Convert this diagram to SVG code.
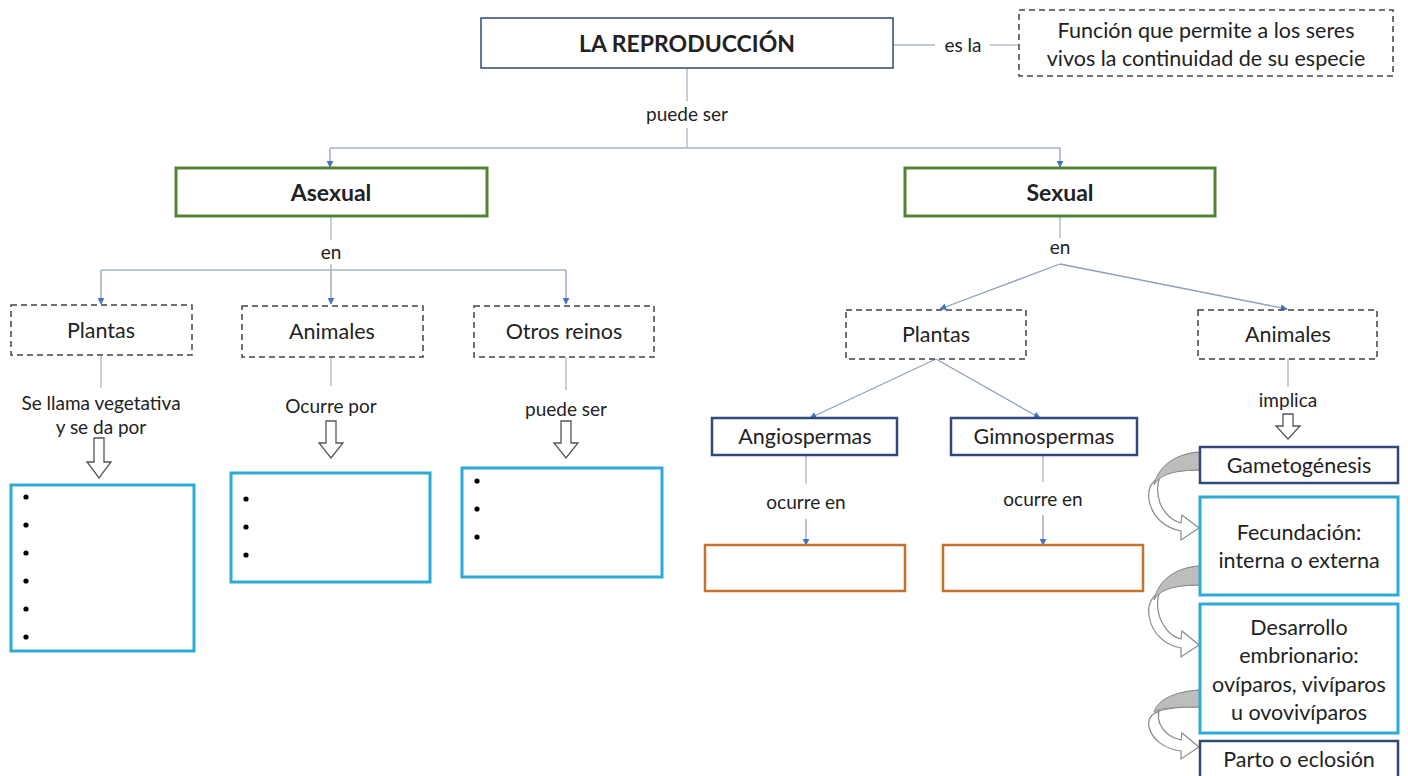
<svg xmlns="http://www.w3.org/2000/svg" width="1408" height="776" viewBox="0 0 1408 776">
<defs>
<marker id="ah" viewBox="0 0 10 10" refX="9" refY="5" markerWidth="7" markerHeight="7" orient="auto" markerUnits="userSpaceOnUse">
<path d="M0,0 L10,5 L0,10 Z" fill="#4472c4"/>
</marker>
<style>
text{font-family:Lato,"Open Sans","Liberation Sans",sans-serif;fill:#222;text-anchor:middle}
.t{font-size:21.5px}
.b{font-size:23px;font-weight:bold}
.lbl{font-size:19px}
.ln{fill:none;stroke:#a9b4c6;stroke-width:1.3}
.arr{fill:none;stroke:#8fa0bb;stroke-width:1.3;marker-end:url(#ah)}
.dash{fill:#fff;stroke:#444;stroke-width:1.5;stroke-dasharray:6,4}
.green{fill:#fff;stroke:#548235;stroke-width:3}
.navy{fill:#fff;stroke:#2f4a78;stroke-width:2.5}
.cyan{fill:#fff;stroke:#2eaad6;stroke-width:3}
.orange{fill:#fff;stroke:#c5722f;stroke-width:2.5}
.block{fill:#fff;stroke:#555;stroke-width:1.3}
.cur{fill:#fff;stroke:#8a8a8a;stroke-width:1.2}
.curf{fill:#bdbdbd;stroke:#8a8a8a;stroke-width:1}
.dot{fill:#000}
</style>
</defs>
<rect width="1408" height="776" fill="#fff"/>

<g id="connectors">
<path class="ln" d="M893,45 H935"/>
<path class="ln" d="M990,45 H1019"/>
<path class="ln" d="M687,68 V101"/>
<path class="ln" d="M687,128 V148"/>
<path class="ln" d="M330,148 H1060"/>
<path class="arr" d="M330,148 V167"/>
<path class="arr" d="M1060,148 V167"/>
<path class="ln" d="M331,216 V240"/>
<path class="ln" d="M331,264 V270"/>
<path class="ln" d="M101,270 H566"/>
<path class="arr" d="M101,270 V304"/>
<path class="arr" d="M331,270 V304"/>
<path class="arr" d="M566,270 V304"/>
<path class="ln" d="M101,356 V388"/>
<path class="ln" d="M331,357 V386"/>
<path class="ln" d="M566,357 V390"/>
<path class="ln" d="M1060,216 V238"/>
<path class="arr" d="M1060,264 L940,309"/>
<path class="arr" d="M1060,264 L1287,309"/>
<path class="arr" d="M936,359 L810,418"/>
<path class="arr" d="M936,359 L1040,418"/>
<path class="ln" d="M806,455 V484"/>
<path class="arr" d="M806,519 V545"/>
<path class="ln" d="M1043,455 V482"/>
<path class="arr" d="M1043,515 V545"/>
<path class="ln" d="M1288,359 V387"/>
</g>

<g id="block-arrows">
<path class="block" d="M94,438 H104 V462 H111 L99,478 L87,462 H94 Z"/>
<path class="block" d="M326,421 H336 V443 H343 L331,458 L319,443 H326 Z"/>
<path class="block" d="M561,421 H571 V443 H578 L566,458 L554,443 H561 Z"/>
<path class="block" d="M1283,414 H1293 V426 H1300 L1288,439 L1276,426 H1283 Z"/>
</g>

<g id="curved-arrows">
<path class="cur" d="M1200,452 C1165,454 1152,480 1160,503 C1165,515 1173,521 1181,523 L1182,515 L1199,528 L1181,540 L1181,531 C1165,528 1152,517 1149,500 C1146,480 1160,470 1200,470 Z"/>
<path class="curf" d="M1200,452 C1172,454 1158,468 1154,485 C1160,474 1176,470 1200,470 Z"/>
<path class="cur" d="M1200,566 C1165,568 1152,594 1160,618 C1165,630 1173,637 1181,639 L1182,631 L1199,645 L1181,657 L1181,648 C1165,645 1152,634 1149,616 C1146,596 1160,585 1200,585 Z"/>
<path class="curf" d="M1200,566 C1172,568 1158,582 1154,600 C1160,589 1176,585 1200,585 Z"/>
<path class="cur" d="M1200,690 C1165,692 1154,708 1160,724 C1164,733 1172,738 1181,740 L1182,733 L1199,747 L1181,759 L1181,751 C1165,749 1152,740 1149,727 C1146,712 1160,707 1200,707 Z"/>
<path class="curf" d="M1200,690 C1172,692 1158,700 1154,712 C1160,708 1176,707 1200,707 Z"/>
</g>

<g id="n-reproduccion"><rect x="481" y="18" width="412" height="50" fill="#fff" stroke="#2f4a78" stroke-width="1.5"/><text class="b" x="687" y="52">LA REPRODUCCIÓN</text></g>
<g id="l-esla"><text class="lbl" x="963" y="52">es la</text></g>
<g id="n-funcion"><rect class="dash" x="1019" y="10" width="374" height="66"/><text class="t" x="1206" y="38">Función que permite a los seres</text><text class="t" x="1206" y="66">vivos la continuidad de su especie</text></g>
<g id="l-puedeser"><text class="lbl" x="687" y="121">puede ser</text></g>

<g id="n-asexual"><rect class="green" x="176" y="168" width="311" height="48"/><text class="b" x="331" y="201">Asexual</text></g>
<g id="n-sexual"><rect class="green" x="905" y="168" width="310" height="48"/><text class="b" x="1060" y="201">Sexual</text></g>
<g id="l-en1"><text class="lbl" x="331" y="259">en</text></g>
<g id="l-en2"><text class="lbl" x="1060" y="254">en</text></g>

<g id="n-plantas-a"><rect class="dash" x="11" y="305" width="181" height="50"/><text class="t" x="101" y="338">Plantas</text></g>
<g id="n-animales-a"><rect class="dash" x="242" y="306" width="181" height="51"/><text class="t" x="332" y="339">Animales</text></g>
<g id="n-otros"><rect class="dash" x="474" y="306" width="180" height="51"/><text class="t" x="564" y="339">Otros reinos</text></g>

<g id="l-vegetativa"><text class="lbl" x="101" y="410">Se llama vegetativa</text><text class="lbl" x="101" y="434">y se da por</text></g>
<g id="l-ocurrepor"><text class="lbl" x="331" y="413">Ocurre por</text></g>
<g id="l-puedeser2"><text class="lbl" x="566" y="416">puede ser</text></g>

<g id="n-lista-plantas"><rect class="cyan" x="11" y="485" width="183" height="166"/>
<circle class="dot" cx="26" cy="497" r="2.6"/><circle class="dot" cx="26" cy="525" r="2.6"/><circle class="dot" cx="26" cy="553" r="2.6"/><circle class="dot" cx="26" cy="581" r="2.6"/><circle class="dot" cx="26" cy="609" r="2.6"/><circle class="dot" cx="26" cy="637" r="2.6"/></g>
<g id="n-lista-animales"><rect class="cyan" x="231" y="473" width="199" height="109"/>
<circle class="dot" cx="246" cy="499" r="2.6"/><circle class="dot" cx="246" cy="527" r="2.6"/><circle class="dot" cx="246" cy="555" r="2.6"/></g>
<g id="n-lista-otros"><rect class="cyan" x="462" y="468" width="200" height="109"/>
<circle class="dot" cx="477" cy="481" r="2.6"/><circle class="dot" cx="477" cy="509" r="2.6"/><circle class="dot" cx="477" cy="537" r="2.6"/></g>

<g id="n-plantas-s"><rect class="dash" x="846" y="310" width="180" height="49"/><text class="t" x="936" y="342">Plantas</text></g>
<g id="n-animales-s"><rect class="dash" x="1198" y="310" width="179" height="49"/><text class="t" x="1288" y="342">Animales</text></g>

<g id="n-angio"><rect class="navy" x="712" y="418" width="185" height="37"/><text class="t" x="805" y="444">Angiospermas</text></g>
<g id="n-gimno"><rect class="navy" x="951" y="418" width="186" height="37"/><text class="t" x="1044" y="444">Gimnospermas</text></g>
<g id="l-ocurre1"><text class="lbl" x="806" y="509">ocurre en</text></g>
<g id="l-ocurre2"><text class="lbl" x="1043" y="506">ocurre en</text></g>
<g id="n-orange1"><rect class="orange" x="705" y="545" width="200" height="46"/></g>
<g id="n-orange2"><rect class="orange" x="943" y="545" width="200" height="46"/></g>

<g id="l-implica"><text class="lbl" x="1288" y="407">implica</text></g>
<g id="n-gameto"><rect class="navy" x="1200" y="447" width="198" height="36"/><text class="t" x="1299" y="473">Gametogénesis</text></g>
<g id="n-fecund"><rect class="cyan" x="1200" y="497" width="198" height="98"/><text class="t" x="1299" y="540">Fecundación:</text><text class="t" x="1299" y="568">interna o externa</text></g>
<g id="n-desarrollo"><rect class="cyan" x="1200" y="604" width="198" height="129"/><text class="t" x="1299" y="635">Desarrollo</text><text class="t" x="1299" y="663">embrionario:</text><text class="t" x="1299" y="692">ovíparos, vivíparos</text><text class="t" x="1299" y="720">u ovovivíparos</text></g>
<g id="n-parto"><rect class="navy" x="1200" y="741" width="198" height="40"/><text class="t" x="1299" y="767">Parto o eclosión</text></g>
</svg>
